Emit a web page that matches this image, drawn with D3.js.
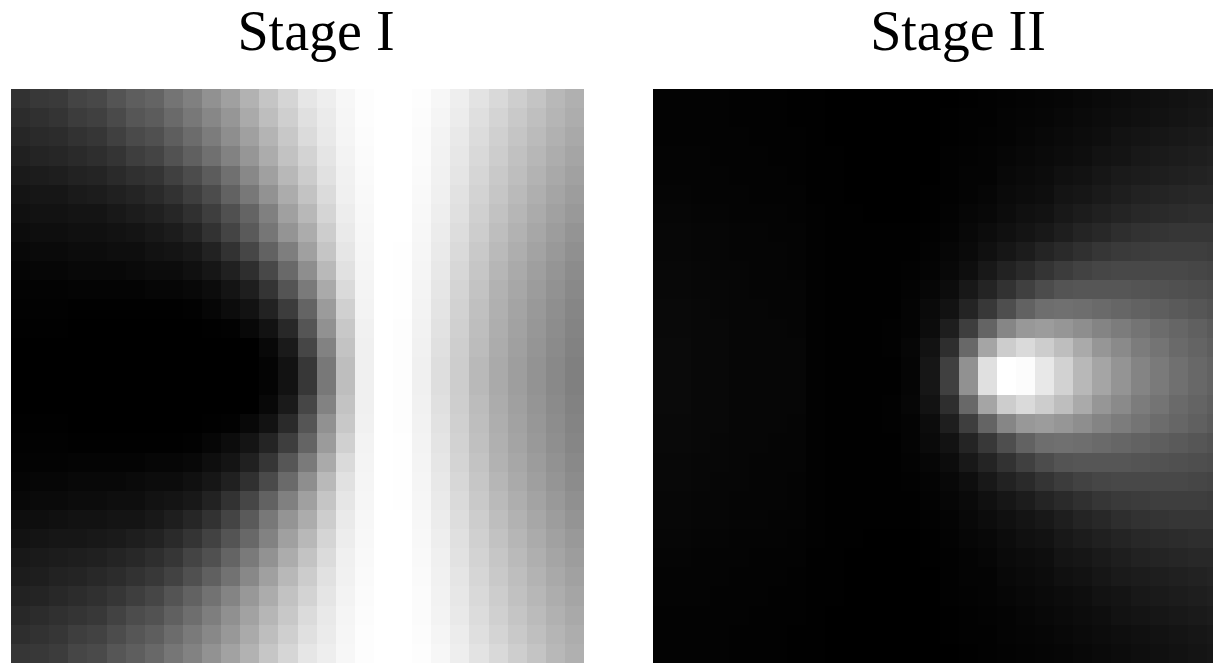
<!DOCTYPE html>
<html>
<head>
<meta charset="utf-8">
<script src="https://cdn.jsdelivr.net/npm/d3@7"></script>
<style>
  html, body { margin: 0; padding: 0; background: #fff; overflow: hidden; }
  svg { display: block; }
  text { font-family: "Liberation Serif", serif; }
</style>
</head>
<body>
<div id="chart"></div>
<script>
// grey level of every cell (0 black, 255 white)
const stageOne = [
  [50,56,58,68,72,84,94,100,116,128,145,160,178,197,213,230,238,247,253,255,255,253,247,238,227,217,206,196,184,176],
  [44,48,52,60,64,74,86,92,106,120,135,150,170,190,207,224,235,246,253,255,255,252,245,236,223,212,201,191,181,173],
  [38,42,44,50,54,64,74,80,94,108,124,142,160,180,200,219,233,245,252,255,255,251,243,233,220,208,197,187,177,169],
  [32,36,38,42,46,52,62,68,82,96,112,130,150,172,194,211,229,243,251,255,255,251,242,231,217,205,193,183,173,165],
  [26,28,30,34,36,42,48,52,64,76,92,112,136,160,184,204,225,241,250,255,255,250,241,229,214,201,190,179,169,161],
  [20,22,22,26,28,32,36,42,50,62,76,98,120,146,172,195,219,240,249,255,255,249,240,226,211,198,186,175,165,157],
  [16,18,18,20,20,24,28,32,38,48,62,80,100,128,160,184,213,237,248,255,255,248,238,224,208,194,182,171,161,153],
  [12,14,14,16,16,18,20,24,28,36,50,68,90,118,148,172,205,234,247,255,255,247,236,221,205,190,178,167,157,148],
  [8,10,10,12,12,14,14,18,20,24,34,50,70,98,126,160,197,230,246,255,254,246,234,218,201,186,174,163,153,144],
  [5,6,6,8,8,8,10,12,12,16,22,32,46,72,105,142,185,225,245,255,254,245,232,215,198,182,170,159,149,140],
  [3,3,3,4,4,4,4,6,6,8,12,20,30,52,84,122,170,218,244,255,254,244,230,212,195,178,167,156,146,137],
  [2,2,2,1,1,1,1,1,1,2,6,12,18,34,60,100,155,208,243,255,254,243,228,210,192,176,164,153,143,134],
  [1,1,1,0,0,0,0,0,0,0,1,2,8,18,40,85,145,200,241,255,253,242,226,208,190,174,162,151,141,132],
  [0,0,0,0,0,0,0,0,0,0,0,0,0,8,26,70,130,195,240,255,253,241,224,206,188,172,160,149,139,130],
  [0,0,0,0,0,0,0,0,0,0,0,0,0,4,18,55,120,190,240,255,253,240,222,205,185,170,158,147,137,128],
  [0,0,0,0,0,0,0,0,0,0,0,0,0,4,18,55,120,190,240,255,253,240,222,205,185,170,158,147,137,128],
  [0,0,0,0,0,0,0,0,0,0,0,0,0,8,26,70,130,195,240,255,253,241,224,206,188,172,160,149,139,130],
  [1,1,1,0,0,0,0,0,0,0,1,2,8,18,42,85,145,200,241,255,253,242,226,208,190,174,162,151,141,132],
  [2,2,2,1,1,1,1,1,1,2,6,12,20,36,62,100,155,208,243,255,254,243,228,210,192,176,164,153,143,134],
  [3,3,3,4,4,4,4,6,6,8,14,20,32,54,86,122,170,218,244,255,254,244,230,212,195,178,167,156,146,137],
  [5,6,6,8,8,8,10,12,12,16,22,32,48,74,106,142,185,225,245,255,254,245,232,215,198,182,170,159,149,140],
  [8,10,10,12,12,14,14,18,20,24,34,50,70,98,128,160,197,230,246,255,254,246,234,218,201,186,174,163,153,144],
  [14,14,16,18,18,20,20,24,30,38,50,68,90,120,148,172,205,234,247,255,255,247,236,221,205,190,178,167,157,148],
  [18,20,22,22,24,26,30,34,42,52,66,84,104,130,160,184,213,237,248,255,255,248,238,224,208,194,182,171,161,153],
  [24,26,28,30,32,36,40,46,54,68,80,100,122,146,172,195,219,240,249,255,255,249,240,226,211,198,186,175,165,157],
  [28,30,34,36,40,44,50,56,66,80,96,114,136,160,184,204,225,241,250,255,255,250,241,229,214,201,190,179,169,161],
  [34,36,40,44,48,54,62,70,84,98,114,132,152,172,194,211,229,243,251,255,255,251,242,231,217,205,193,183,173,165],
  [40,44,48,52,56,66,76,82,96,110,126,144,162,182,200,219,233,245,252,255,255,251,243,233,220,208,197,187,177,169],
  [46,50,54,62,66,76,86,94,108,122,136,152,170,190,207,224,235,246,253,255,255,252,245,236,223,212,201,191,181,173],
  [54,56,60,70,74,86,94,104,118,130,146,162,178,198,214,230,238,247,253,255,255,253,247,238,227,217,206,196,184,176]
];

const stageTwo = [
  [3,3,3,3,2,2,2,1,1,0,0,0,0,0,0,0,1,2,3,4,5,6,8,10,12,14,16,18,20,22],
  [3,3,3,3,2,2,2,1,1,0,0,0,0,0,0,1,2,2,4,5,6,8,10,12,14,16,18,20,22,24],
  [3,3,3,3,3,2,2,2,1,0,0,0,0,0,0,1,2,3,4,6,8,10,12,14,18,20,22,24,26,28],
  [4,4,4,3,3,3,2,2,1,1,0,0,0,0,0,2,3,4,6,8,10,12,14,18,20,24,26,28,30,32],
  [4,4,4,4,3,3,3,2,1,1,0,0,0,0,0,2,4,4,8,10,12,16,18,22,26,28,30,32,34,36],
  [5,5,4,4,4,3,3,3,1,1,0,0,0,0,1,2,4,6,10,12,14,20,22,26,30,34,36,38,40,40],
  [6,6,5,5,4,4,4,3,2,1,1,0,0,0,1,3,6,8,12,16,18,24,28,32,36,40,42,44,46,46],
  [7,7,6,6,5,5,4,4,2,1,1,1,1,1,2,4,8,12,16,20,24,30,36,40,46,50,52,54,54,54],
  [7,7,6,6,5,5,5,4,2,1,1,1,1,1,3,6,10,16,22,28,36,42,48,54,58,60,62,62,62,60],
  [8,8,7,6,6,5,5,4,2,1,1,1,1,2,4,8,14,24,34,42,52,60,66,70,72,72,72,72,70,68],
  [8,8,7,7,6,5,5,5,2,1,1,1,1,3,6,12,24,36,50,64,76,84,86,86,86,84,82,80,78,76],
  [9,9,8,7,6,6,5,5,2,1,1,1,1,4,10,18,36,56,78,98,110,112,110,106,102,98,94,90,86,82],
  [9,9,8,8,6,6,6,5,2,1,1,1,2,4,12,30,62,100,134,152,156,150,142,132,124,116,108,102,96,90],
  [10,10,8,8,6,6,6,6,2,1,1,1,2,6,18,46,104,165,205,218,205,190,170,150,138,124,116,106,100,94],
  [10,10,8,8,6,6,6,6,2,1,1,1,1,5,22,64,145,224,255,252,232,210,184,165,148,132,122,112,104,98],
  [10,10,8,8,6,6,6,6,2,1,1,1,1,5,22,64,145,224,255,252,232,210,184,165,148,132,122,112,104,98],
  [10,10,8,8,6,6,6,6,2,1,1,1,2,6,18,46,104,165,205,218,205,190,170,150,138,124,116,106,100,94],
  [9,9,8,8,6,6,6,5,2,1,1,1,2,4,12,30,62,100,134,152,156,150,142,132,124,116,108,102,96,90],
  [9,9,8,7,6,6,5,5,2,1,1,1,1,4,10,18,36,56,78,98,110,112,110,106,102,98,94,90,86,82],
  [8,8,7,7,6,5,5,5,2,1,1,1,1,3,6,12,24,36,50,64,76,84,86,86,86,84,82,80,78,76],
  [8,8,7,6,6,5,5,4,2,1,1,1,1,2,4,8,14,24,34,42,52,60,66,70,72,72,72,72,70,68],
  [7,7,6,6,5,5,5,4,2,1,1,1,1,1,3,6,10,16,22,28,36,42,48,54,58,60,62,62,62,60],
  [7,7,6,6,5,5,4,4,2,1,1,1,1,1,2,4,8,12,16,20,24,30,36,40,46,50,52,54,54,54],
  [6,6,5,5,4,4,4,3,2,1,1,0,0,0,1,3,6,8,12,16,18,24,28,32,36,40,42,44,46,46],
  [5,5,4,4,4,3,3,3,1,1,0,0,0,0,1,2,4,6,10,12,14,20,22,26,30,34,36,38,40,40],
  [4,4,4,4,3,3,3,2,1,1,0,0,0,0,0,2,4,4,8,10,12,16,18,22,26,28,30,32,34,36],
  [4,4,4,3,3,3,2,2,1,1,0,0,0,0,0,2,3,4,6,8,10,12,14,18,20,24,26,28,30,32],
  [3,3,3,3,3,2,2,2,1,0,0,0,0,0,0,1,2,3,4,6,8,10,12,14,18,20,22,24,26,28],
  [3,3,3,3,2,2,2,1,1,0,0,0,0,0,0,1,2,2,4,5,6,8,10,12,14,16,18,20,22,24],
  [3,3,3,3,2,2,2,1,1,0,0,0,0,0,0,0,1,2,3,4,5,6,8,10,12,14,16,18,20,22]
];

const panelTitles = ["Stage I", "Stage II"];

const width = 1213, height = 663;

const svg = d3.select("#chart").append("svg")
  .attr("width", width)
  .attr("height", height);

const color = d3.scaleLinear().domain([0, 255]).range(["#000000", "#ffffff"]);

function drawPanel(rows, title, left) {
  const cols = d3.range(rows[0].length);
  const x = d3.scaleBand().domain(cols).range([left, left + 573]);
  const y = d3.scaleBand().domain(d3.range(rows.length)).range([89, 663]);

  const g = svg.append("g").attr("shape-rendering", "crispEdges");
  g.selectAll("g")
    .data(rows)
    .enter().append("g")
    .selectAll("rect")
    .data(function (row, r) { return row.map(function (v, c) { return { r: r, c: c, v: v }; }); })
    .enter().append("rect")
    .attr("x", function (d) { return x(d.c); })
    .attr("y", function (d) { return y(d.r); })
    .attr("width", x.bandwidth())
    .attr("height", y.bandwidth())
    .attr("fill", function (d) { return color(d.v); });

  svg.append("text")
    .attr("x", left + 305)
    .attr("y", 50)
    .attr("text-anchor", "middle")
    .attr("font-size", 56)
    .attr("fill", "#000")
    .text(title);
}

drawPanel(stageOne, panelTitles[0], 11);
drawPanel(stageTwo, panelTitles[1], 653);
</script>
</body>
</html>
